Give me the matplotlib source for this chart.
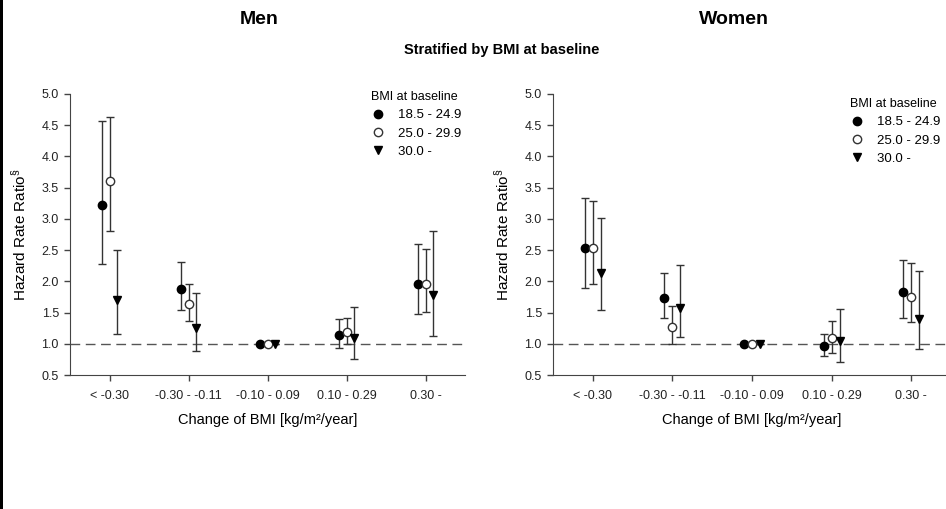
import matplotlib
matplotlib.use("Agg")
import matplotlib.pyplot as plt
from matplotlib.patches import Rectangle
import numpy as np

plt.rcParams.update({
    "font.family": ["Liberation Sans", "DejaVu Sans"],
    "mathtext.fontset": "custom",
    "mathtext.rm": "Liberation Sans",
    "axes.edgecolor": "#444444",
    "xtick.color": "#444444",
    "ytick.color": "#444444",
    "xtick.labelcolor": "#222222",
    "ytick.labelcolor": "#222222",
})

categories = ["< -0.30", "-0.30 - -0.11", "-0.10 - 0.09", "0.10 - 0.29", "0.30 -"]
groups = ["18.5 - 24.9", "25.0 - 29.9", "30.0 -"]

# Men: hazard ratio, lower CI, upper CI per BMI group
men_hr = {
    "18.5 - 24.9": [3.22, 1.88, 1.00, 1.14, 1.95],
    "25.0 - 29.9": [3.61, 1.63, 1.00, 1.19, 1.95],
    "30.0 -": [1.70, 1.25, 1.00, 1.10, 1.78],
}
men_lo = {
    "18.5 - 24.9": [2.28, 1.54, 1.00, 0.93, 1.47],
    "25.0 - 29.9": [2.81, 1.36, 1.00, 1.00, 1.51],
    "30.0 -": [1.16, 0.88, 1.00, 0.75, 1.13],
}
men_hi = {
    "18.5 - 24.9": [4.56, 2.31, 1.00, 1.39, 2.59],
    "25.0 - 29.9": [4.63, 1.95, 1.00, 1.41, 2.52],
    "30.0 -": [2.50, 1.82, 1.00, 1.59, 2.81],
}

# Women
women_hr = {
    "18.5 - 24.9": [2.53, 1.74, 1.00, 0.96, 1.83],
    "25.0 - 29.9": [2.53, 1.27, 1.00, 1.09, 1.75],
    "30.0 -": [2.14, 1.57, 1.00, 1.04, 1.40],
}
women_lo = {
    "18.5 - 24.9": [1.90, 1.41, 1.00, 0.80, 1.42],
    "25.0 - 29.9": [1.95, 1.00, 1.00, 0.85, 1.35],
    "30.0 -": [1.54, 1.11, 1.00, 0.71, 0.92],
}
women_hi = {
    "18.5 - 24.9": [3.34, 2.14, 1.00, 1.16, 2.34],
    "25.0 - 29.9": [3.29, 1.60, 1.00, 1.36, 2.30],
    "30.0 -": [3.02, 2.26, 1.00, 1.55, 2.16],
}

offsets = [-0.1, 0.0, 0.1]
styles = [
    dict(marker="o", mfc="black", mec="black", ms=6),
    dict(marker="o", mfc="white", mec="#333333", ms=6),
    dict(marker="v", mfc="black", mec="black", ms=6),
]


def draw_panel(ax, hr, lo, hi, legend_anchor):
    x = np.arange(len(categories))
    ax.axhline(1.0, color="#555555", lw=1.0, dashes=(7, 4), zorder=1)
    for g, off, st in zip(groups, offsets, styles):
        y = np.array(hr[g])
        err = np.vstack([y - np.array(lo[g]), np.array(hi[g]) - y])
        ax.errorbar(x + off, y, yerr=err, fmt="none", ecolor="#333333",
                    elinewidth=1.0, capsize=3.0, capthick=1.0, zorder=2)
        ax.plot(x + off, y, ls="none", label=g, zorder=3, **st)
    ax.set_xlim(-0.5, 4.5)
    ax.set_ylim(0.5, 5.0)
    ax.set_yticks(np.arange(0.5, 5.01, 0.5))
    ax.set_yticklabels([f"{v:.1f}" for v in np.arange(0.5, 5.01, 0.5)])
    ax.set_xticks(x)
    ax.set_xticklabels(categories)
    ax.tick_params(axis="both", labelsize=9, length=4, width=1.0, pad=4)
    ax.tick_params(axis="x", pad=7)
    for s in ["top", "right"]:
        ax.spines[s].set_visible(False)
    ax.set_ylabel(r"Hazard Rate Ratio$^{\mathregular{§}}$", fontsize=11, labelpad=9.5)
    ax.set_xlabel("Change of BMI [kg/m²/year]", fontsize=10.5, labelpad=8)
    leg = ax.legend(title="BMI at baseline", frameon=False, fontsize=9.5,
                    title_fontsize=9, loc="upper left", bbox_to_anchor=legend_anchor,
                    handlelength=1.0, handletextpad=1.0, labelspacing=0.45,
                    borderaxespad=0, alignment="left")
    return leg


fig = plt.figure(figsize=(9.46, 5.09), dpi=100)
W, H = 946, 509
ax_m = fig.add_axes([70 / W, 1 - 375 / H, 395 / W, 281 / H])
ax_w = fig.add_axes([553 / W, 1 - 375 / H, 398 / W, 281 / H])

draw_panel(ax_m, men_hr, men_lo, men_hi, ((366 - 70) / 395, (375 - 86) / 281))
draw_panel(ax_w, women_hr, women_lo, women_hi, ((845 - 553) / 398, (375 - 93) / 281))

fig.text(259 / W, 1 - 20 / H, "Men", fontsize=14, fontweight="bold", ha="center", va="center")
fig.text(734 / W, 1 - 20 / H, "Women", fontsize=14, fontweight="bold", ha="center", va="center")
fig.text(502 / W, 1 - 50 / H, "Stratified by BMI at baseline", fontsize=10.5,
         fontweight="bold", ha="center", va="center")

fig.patches.append(Rectangle((0, 0), 2.5 / W, 1, transform=fig.transFigure,
                             facecolor="black", edgecolor="none"))

fig.savefig("out.png", dpi=100)
